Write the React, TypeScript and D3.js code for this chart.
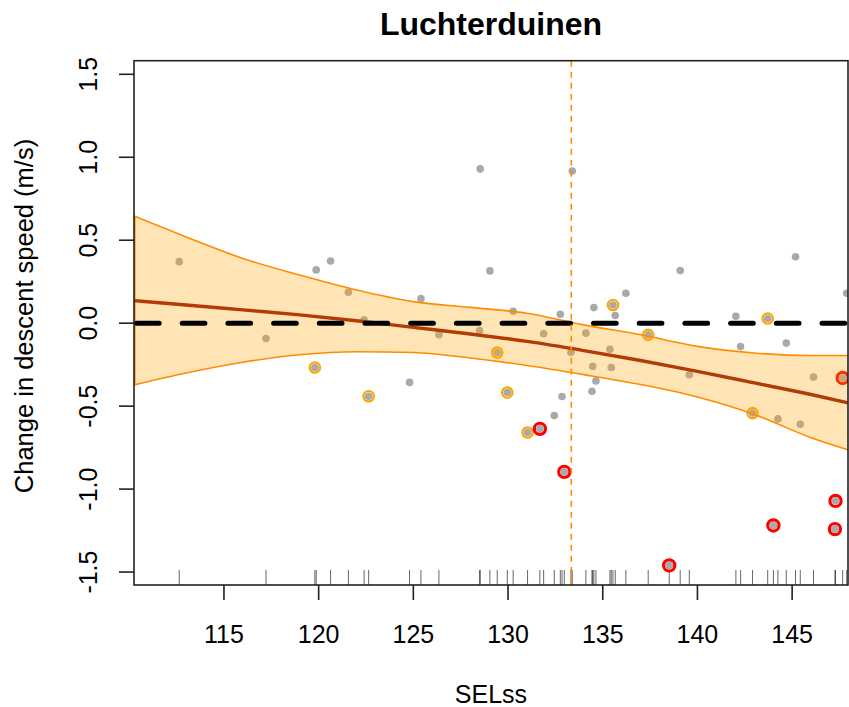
import * as d3 from "d3";
import { useEffect, useRef } from "react";

// observed points (SELss, change in descent speed)
const pointsX = [112.64, 117.22, 119.87, 120.63, 121.57, 122.4, 124.8, 125.4, 126.35, 128.53, 128.5, 129.04, 130.27, 131.88, 132.44, 132.76, 132.85, 133.39, 133.32, 134.11, 134.53, 134.47, 134.64, 134.43, 135.38, 135.45, 135.66, 136.22, 139.09, 139.57, 142.03, 142.28, 144.25, 144.69, 145.18, 145.43, 146.13, 147.88];
const pointsY = [0.371, -0.092, 0.321, 0.375, 0.187, 0.02, -0.357, 0.148, -0.07, 0.93, -0.045, 0.315, 0.072, -0.064, -0.556, 0.054, -0.442, 0.917, -0.175, -0.06, 0.094, -0.26, -0.348, -0.41, -0.157, -0.267, 0.046, 0.18, 0.317, -0.311, 0.042, -0.141, -0.577, -0.12, 0.40, -0.609, -0.325, 0.18];

// points with an orange ring
const orangeX = [119.8, 122.64, 129.43, 129.96, 131.03, 135.54, 137.4, 142.91, 143.71];
const orangeY = [-0.267, -0.44, -0.177, -0.418, -0.659, 0.11, -0.07, -0.542, 0.028];

// points with a red ring
const redX = [131.68, 132.97, 138.51, 144.01, 147.29, 147.26, 147.67];
const redY = [-0.637, -0.896, -1.46, -1.219, -1.071, -1.241, -0.33];

// smooth fit with its confidence band
const fitX = [110.25, 113, 116, 119, 122, 125, 128, 131, 134, 137, 140, 143, 146, 147.95];
const fitY = [0.136, 0.11, 0.08, 0.05, 0.015, -0.025, -0.065, -0.11, -0.165, -0.225, -0.29, -0.36, -0.43, -0.48];
const fitUpper = [0.646, 0.52, 0.39, 0.29, 0.2, 0.13, 0.095, 0.06, -0.01, -0.07, -0.14, -0.18, -0.195, -0.195];
const fitLower = [-0.372, -0.3, -0.235, -0.19, -0.172, -0.177, -0.21, -0.255, -0.31, -0.37, -0.445, -0.55, -0.69, -0.763];

const threshold = 133.34;
const xTicks = [115, 120, 125, 130, 135, 140, 145];
const yTicks = [-1.5, -1.0, -0.5, 0.0, 0.5, 1.0, 1.5];

const FONT = "'Liberation Sans', Arial, sans-serif";

const App = () => {
  const ref = useRef(null);

  useEffect(() => {
    document.body.style.margin = "0";
    const svg = d3.select(ref.current);
    svg.selectAll("*").remove();

    const left = 134, right = 848, top = 60.7, bottom = 585;
    const x = d3.scaleLinear().domain([110.25, 147.95]).range([left, right]);
    const y = d3.scaleLinear().domain([-1.578, 1.582]).range([bottom, top]);

    svg.append("defs").append("clipPath").attr("id", "plotclip")
      .append("rect").attr("x", left).attr("y", top)
      .attr("width", right - left).attr("height", bottom - top);

    const g = svg.append("g").attr("clip-path", "url(#plotclip)");

    const all = [
      ...pointsX.map((v, i) => ({ x: v, y: pointsY[i] })),
      ...orangeX.map((v, i) => ({ x: v, y: orangeY[i] })),
      ...redX.map((v, i) => ({ x: v, y: redY[i] })),
    ];

    // rug
    g.selectAll(".rug").data(all).enter().append("line")
      .attr("x1", d => x(d.x)).attr("x2", d => x(d.x))
      .attr("y1", bottom).attr("y2", bottom - 15)
      .attr("stroke", "#000").attr("stroke-opacity", 0.6).attr("stroke-width", 1);

    // orange rings
    g.selectAll(".or").data(orangeX).enter().append("circle")
      .attr("cx", d => x(d)).attr("cy", (d, i) => y(orangeY[i]))
      .attr("r", 5.2).attr("fill", "none").attr("stroke", "#ffa500").attr("stroke-width", 2.2);

    // red rings
    g.selectAll(".rr").data(redX).enter().append("circle")
      .attr("cx", d => x(d)).attr("cy", (d, i) => y(redY[i]))
      .attr("r", 5.6).attr("fill", "none").attr("stroke", "#ff0000").attr("stroke-width", 3.2);

    // gray dots
    g.selectAll(".pt").data(all).enter().append("circle")
      .attr("cx", d => x(d.x)).attr("cy", d => y(d.y))
      .attr("r", 3.8).attr("fill", "#a9a9a9");

    // confidence band
    const fit = fitX.map((v, i) => ({ x: v, y: fitY[i], lo: fitLower[i], hi: fitUpper[i] }));
    g.append("path").datum(fit)
      .attr("d", d3.area().x(d => x(d.x)).y0(d => y(d.lo)).y1(d => y(d.hi)).curve(d3.curveMonotoneX))
      .attr("fill", "#ffa500").attr("fill-opacity", 0.29);
    g.append("path").datum(fit)
      .attr("d", d3.line().x(d => x(d.x)).y(d => y(d.hi)).curve(d3.curveMonotoneX))
      .attr("fill", "none").attr("stroke", "#ff8c00").attr("stroke-width", 1.6);
    g.append("path").datum(fit)
      .attr("d", d3.line().x(d => x(d.x)).y(d => y(d.lo)).curve(d3.curveMonotoneX))
      .attr("fill", "none").attr("stroke", "#ff8c00").attr("stroke-width", 1.6);
    g.append("line")
      .attr("x1", left + 0.8).attr("x2", left + 0.8)
      .attr("y1", y(fitUpper[0])).attr("y2", y(fitLower[0]))
      .attr("stroke", "#ff8c00").attr("stroke-width", 1.6);

    // fitted line
    g.append("path").datum(fit)
      .attr("d", d3.line().x(d => x(d.x)).y(d => y(d.y)).curve(d3.curveMonotoneX))
      .attr("fill", "none").attr("stroke", "#b23c06").attr("stroke-width", 3.4);

    // zero line
    g.append("line")
      .attr("x1", left + 2.5).attr("x2", right)
      .attr("y1", y(0)).attr("y2", y(0))
      .attr("stroke", "#000").attr("stroke-width", 5)
      .attr("stroke-linecap", "round").attr("stroke-dasharray", "22.7 23");

    // threshold
    g.append("line")
      .attr("x1", x(threshold)).attr("x2", x(threshold))
      .attr("y1", top).attr("y2", bottom)
      .attr("stroke", "#ff8c00").attr("stroke-width", 1.6).attr("stroke-dasharray", "6 5");

    // box
    svg.append("rect")
      .attr("x", left).attr("y", top)
      .attr("width", right - left).attr("height", bottom - top)
      .attr("fill", "none").attr("stroke", "#222").attr("stroke-width", 1.6);

    // x axis
    const xa = svg.append("g");
    xa.selectAll("line").data(xTicks).enter().append("line")
      .attr("x1", d => x(d)).attr("x2", d => x(d))
      .attr("y1", bottom).attr("y2", bottom + 15)
      .attr("stroke", "#222").attr("stroke-width", 1.6);
    xa.selectAll("text").data(xTicks).enter().append("text")
      .attr("x", d => x(d)).attr("y", 643)
      .attr("text-anchor", "middle")
      .style("font-family", FONT).style("font-size", "25px")
      .text(d => String(d));

    // y axis
    const ya = svg.append("g");
    ya.selectAll("line").data(yTicks).enter().append("line")
      .attr("x1", left - 15).attr("x2", left)
      .attr("y1", d => y(d)).attr("y2", d => y(d))
      .attr("stroke", "#222").attr("stroke-width", 1.6);
    ya.selectAll("text").data(yTicks).enter().append("text")
      .attr("transform", d => `translate(97,${y(d)}) rotate(-90)`)
      .attr("text-anchor", "middle")
      .style("font-family", FONT).style("font-size", "25px")
      .text(d => d.toFixed(1));

    // titles
    svg.append("text")
      .attr("x", (left + right) / 2).attr("y", 35)
      .attr("text-anchor", "middle")
      .style("font-family", FONT).style("font-size", "32px").style("font-weight", "bold")
      .text("Luchterduinen");
    svg.append("text")
      .attr("x", (left + right) / 2).attr("y", 703)
      .attr("text-anchor", "middle")
      .style("font-family", FONT).style("font-size", "25px")
      .text("SELss");
    svg.append("text")
      .attr("transform", `translate(33,316) rotate(-90)`)
      .attr("text-anchor", "middle")
      .style("font-family", FONT).style("font-size", "25.5px")
      .text("Change in descent speed (m/s)");
  }, []);

  return <svg ref={ref} width="849" height="707" style={{ display: "block" }}></svg>;
};

export default App;
